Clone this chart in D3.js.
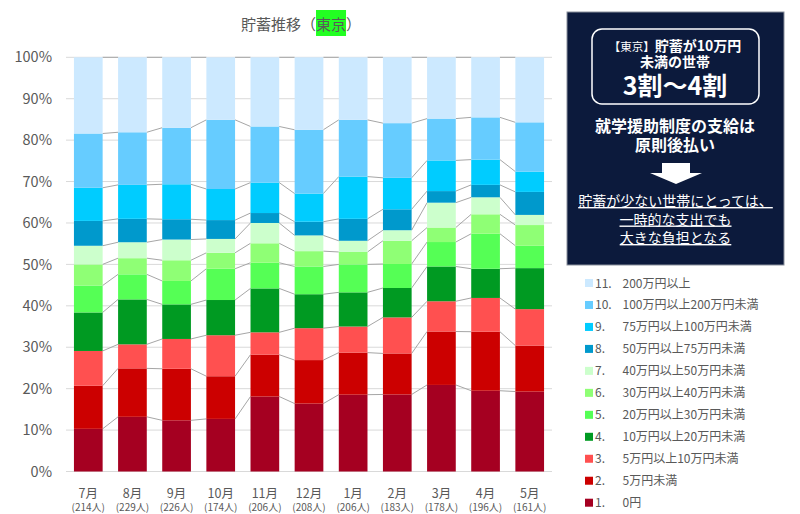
<!DOCTYPE html>
<html><head><meta charset="utf-8">
<script src="https://cdn.jsdelivr.net/npm/d3@7/dist/d3.min.js"></script>
<style>
html,body{margin:0;padding:0;background:#fff;}
svg{display:block;font-family:"Noto Sans CJK JP","Noto Sans",sans-serif;}
</style></head>
<body>
<svg id="chart" width="800" height="514"></svg>
<script>
const months = ["7月","8月","9月","10月","11月","12月","1月","2月","3月","4月","5月"];
const counts = ["(214人)","(229人)","(226人)","(174人)","(206人)","(208人)","(206人)","(183人)","(178人)","(196人)","(161人)"];
const seriesNames = ["1.\u30000円","2.\u30005万円未満","3.\u30005万円以上10万円未満","4.\u300010万円以上20万円未満","5.\u300020万円以上30万円未満","6.\u300030万円以上40万円未満","7.\u300040万円以上50万円未満","8.\u300050万円以上75万円未満","9.\u300075万円以上100万円未満","10.\u3000100万円以上200万円未満","11.\u3000200万円以上"];
const s1  = [10.3, 13.2, 12.35, 12.7, 18.1, 16.4, 18.55, 18.6, 20.9, 19.5, 19.3];
const s2  = [10.4, 11.7, 12.45, 10.3, 10.1, 10.5, 10.15, 9.9, 12.9, 14.25, 11.1];
const s3  = [8.4, 5.8, 7.2, 9.9, 5.4, 7.7, 6.3, 8.7, 7.3, 8.15, 8.8];
const s4  = [9.3, 10.85, 8.35, 8.5, 10.6, 8.2, 8.25, 7.1, 8.4, 7.05, 9.9];
const s5  = [6.5, 6.05, 5.65, 7.55, 6.2, 6.7, 6.75, 5.8, 5.9, 8.45, 5.4];
const s6  = [5.1, 3.9, 5.0, 3.85, 4.7, 3.7, 3.0, 5.6, 3.5, 4.7, 5.0];
const s7  = [4.5, 3.85, 5.0, 3.35, 4.9, 3.8, 2.7, 2.55, 6.0, 4.1, 2.45];
const s8  = [6.0, 5.65, 4.9, 4.55, 2.4, 3.3, 5.3, 5.05, 2.8, 3.0, 5.55];
const s9  = [8.0, 8.2, 8.45, 7.5, 7.35, 6.8, 10.2, 7.6, 7.4, 6.1, 4.9];
const s10 = [13.1, 12.7, 13.65, 16.7, 13.55, 15.4, 13.7, 13.2, 10.1, 10.2, 11.9];
const s11 = [18.4, 18.1, 17.0, 15.1, 16.7, 17.5, 15.1, 15.9, 14.8, 14.5, 15.7];
const yTicks = [0,10,20,30,40,50,60,70,80,90,100];
const colors = ["#a50021","#cc0000","#ff5050","#009a22","#55ff55","#8fff75","#ccffcc","#0099cc","#00ccff","#66ccff","#cce9ff"];

const allSeries = [s1,s2,s3,s4,s5,s6,s7,s8,s9,s10,s11];
const keys = seriesNames.map((d,i)=>"k"+i);
const table = months.map((m,j)=>{const o={month:m}; keys.forEach((k,i)=>o[k]=allSeries[i][j]); return o;});
const stacked = d3.stack().keys(keys).offset(d3.stackOffsetExpand)(table);

const svg = d3.select("#chart");
const x = d3.scaleBand().domain(months).range([66,552]).paddingInner(0.35).paddingOuter(0.18);
const y = d3.scaleLinear().domain([0,1]).range([471.5,57.3]);
const yPct = d3.scaleLinear().domain([0,100]).range([471.5,57.3]);
const textCol = "#595959";

// gridlines
svg.append("g").selectAll("line").data(yTicks).join("line")
  .attr("x1",66).attr("x2",552).attr("y1",d=>yPct(d)).attr("y2",d=>yPct(d))
  .attr("stroke","#d9d9d9").attr("stroke-width",1);

// y labels
const yAxis = svg.append("g").attr("transform","translate(52,0)")
  .call(d3.axisLeft(yPct).tickValues(yTicks).tickSize(0).tickPadding(0).tickFormat(d=>d+"%"));
yAxis.select(".domain").remove();
yAxis.selectAll("text").attr("fill",textCol).style("font-size","14.5px").style("font-family","'Noto Sans CJK JP',sans-serif");

// connector lines
const bw = x.bandwidth();
const conn = svg.append("g").attr("stroke","#a6a6a6").attr("stroke-width",1).attr("fill","none");
stacked.forEach(layer=>{
  for(let j=0;j<months.length-1;j++){
    conn.append("line")
      .attr("x1",x(months[j])+bw).attr("x2",x(months[j+1]))
      .attr("y1",y(layer[j][1])).attr("y2",y(layer[j+1][1]));
  }
});

// bars
svg.append("g").selectAll("g").data(stacked).join("g")
  .attr("fill",(d,i)=>colors[i])
  .selectAll("rect").data(d=>d).join("rect")
  .attr("x",d=>x(d.data.month)).attr("width",bw)
  .attr("y",d=>y(d[1])).attr("height",d=>y(d[0])-y(d[1]));

// x labels (two lines per category in one text element)
const xl = svg.append("g");
months.forEach((m,j)=>{
  const cx = x(m)+bw/2;
  const t = xl.append("text").attr("x",cx).attr("y",498).attr("text-anchor","middle").attr("fill",textCol);
  t.append("tspan").attr("x",cx).style("font-size","12.5px").text(m);
  t.append("tspan").attr("x",cx).attr("dy",13).style("font-size","10px").text(counts[j]);
});

// title
const tg = svg.append("g");
const hlRect = tg.append("rect").attr("y",10).attr("height",26).attr("fill","#22ff22");
const title = tg.append("text").attr("x",241).attr("y",30).attr("fill",textCol).style("font-size","15px");
title.append("tspan").text("貯蓄推移（");
title.append("tspan").text("東京");
title.append("tspan").text("）");
const tnode = title.node();
const off = tnode.getSubStringLength(0,5);
const wHl = tnode.getSubStringLength(5,2);
hlRect.attr("x",241+off).attr("width",wHl);

// legend
const lg = svg.append("g");
for(let i=10;i>=0;i--){
  const row = 10-i;
  const cy = 283 + row*21.97;
  lg.append("rect").attr("x",585).attr("y",cy-4).attr("width",8).attr("height",8).attr("fill",colors[i]);
  const parts = seriesNames[i].split("\u3000");
  lg.append("text").attr("x",595).attr("y",cy+4.5).attr("fill",textCol).style("font-size","12px").text(parts[0]);
  lg.append("text").attr("x",622.5).attr("y",cy+4.5).attr("fill",textCol).style("font-size","12px").text(parts[1]);
}

// annotation box
const box = svg.append("g");
box.append("rect").attr("x",567).attr("y",12).attr("width",217).attr("height",253)
  .attr("fill","#0c1a3c").attr("stroke","#8a909c").attr("stroke-width",1);
box.append("rect").attr("x",592).attr("y",29).attr("width",167).attr("height",75).attr("rx",10)
  .attr("fill","none").attr("stroke","#ffffff").attr("stroke-width",1.5);
const head = box.append("text").attr("x",675).attr("y",51).attr("text-anchor","middle").attr("fill","#fff");
const l1 = head.append("tspan").attr("x",675);
l1.append("tspan").style("font-size","11.5px").text("【東京】");
l1.append("tspan").style("font-size","14px").style("font-weight","bold").text("貯蓄が10万円");
head.append("tspan").attr("x",675).attr("dy",16).style("font-size","14px").style("font-weight","bold").text("未満の世帯");
head.append("tspan").attr("x",675).attr("dy",28).style("font-size","25px").style("font-weight","bold").text("3割〜4割");
const mid = box.append("text").attr("x",675).attr("y",132).attr("text-anchor","middle").attr("fill","#fff")
  .style("font-size","16px").style("font-weight","bold");
mid.append("tspan").attr("x",675).text("就学援助制度の支給は");
mid.append("tspan").attr("x",675).attr("dy",19).text("原則後払い");
box.append("path").attr("d","M662,163 L690,163 L690,173 L702,173 L676,184 L650,173 L662,173 Z").attr("fill","#fff");
const low = box.append("text").attr("x",675.5).attr("y",206).attr("text-anchor","middle").attr("fill","#fff")
  .style("font-size","14px").style("text-decoration","underline");
["貯蓄が少ない世帯にとっては、","一時的な支出でも","大きな負担となる"].forEach((t,i)=>{
  low.append("tspan").attr("x",675.5).attr("dy",i===0?0:18.5).text(t);
});
</script>
</body></html>
